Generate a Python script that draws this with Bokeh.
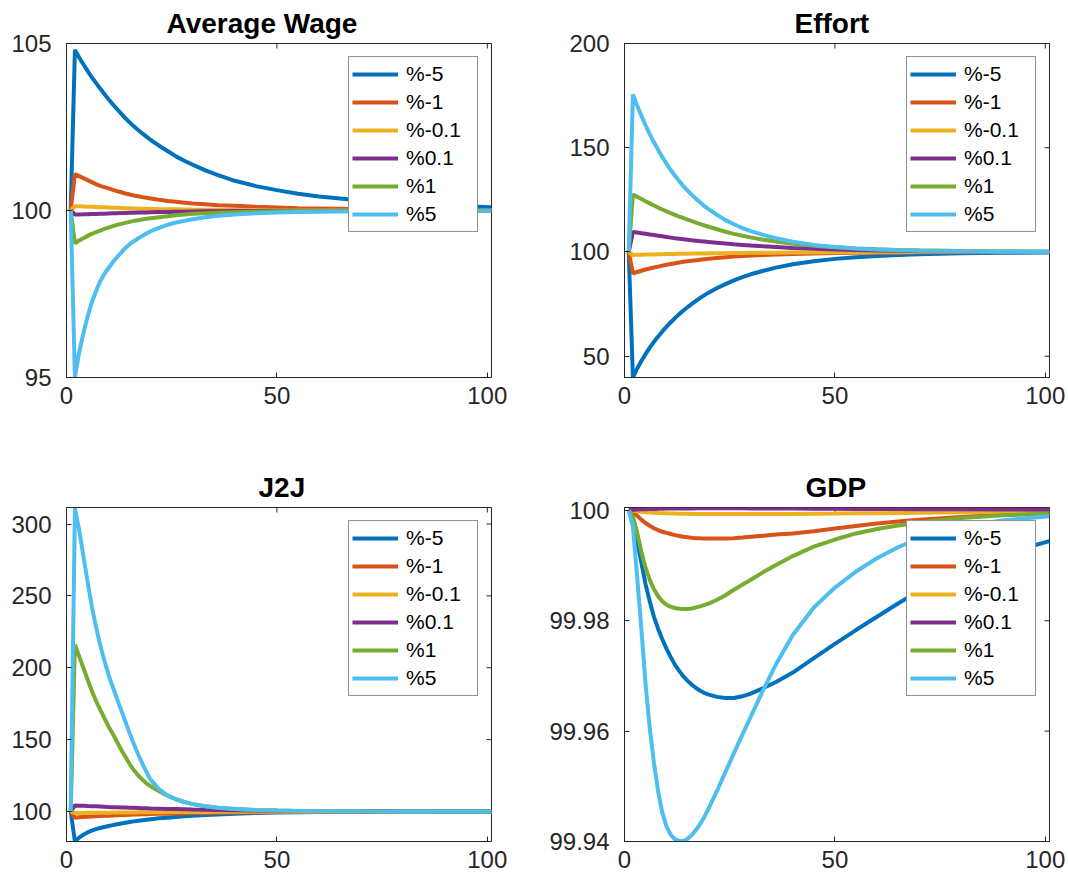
import math
from bokeh.plotting import figure
from bokeh.layouts import gridplot
from bokeh.models import Range1d, FixedTicker, Legend, LegendItem
from bokeh.embed import file_html
from bokeh.resources import INLINE

# ---------------- data ----------------
X = [1, 2, 3, 4, 5, 6, 7, 8, 9, 10, 11, 12, 13, 14, 15, 16, 17, 18, 19, 20,
     22, 24, 26, 28, 30, 33, 36, 40, 45, 50, 55, 60, 65, 70, 80, 90, 101]
LABELS = ["%-5", "%-1", "%-0.1", "%0.1", "%1", "%5"]
COLORS = ["#0072BD", "#D95319", "#EDB120", "#7E2F8E", "#77AC30", "#4DBEEE"]

# Average Wage
WAGE_M5 = [100, 104.81, 104.58, 104.38, 104.18, 103.99, 103.82, 103.65, 103.49, 103.33, 103.18, 103.04, 102.90,
           102.76, 102.64, 102.52, 102.41, 102.31, 102.21, 102.11, 101.94, 101.78, 101.62, 101.49, 101.37, 101.20,
           101.06, 100.89, 100.73, 100.61, 100.50, 100.42, 100.36, 100.30, 100.21, 100.15, 100.10]
WAGE_M1 = [100, 101.09, 101.03, 100.97, 100.91, 100.85, 100.79, 100.74, 100.70, 100.66, 100.62, 100.58, 100.545,
           100.51, 100.48, 100.45, 100.425, 100.40, 100.38, 100.36, 100.32, 100.285, 100.26, 100.235, 100.21, 100.185,
           100.16, 100.14, 100.11, 100.09, 100.07, 100.06, 100.05, 100.04, 100.03, 100.02, 100.01]
WAGE_M01 = [100, 100.13, 100.125, 100.12, 100.115, 100.11, 100.105, 100.10, 100.095, 100.09, 100.085, 100.08, 100.075,
            100.07, 100.066, 100.062, 100.058, 100.055, 100.052, 100.049, 100.044, 100.04, 100.036, 100.032, 100.028,
            100.024, 100.02, 100.016, 100.012, 100.01, 100.008, 100.006, 100.005, 100.004, 100.002, 100.001, 100.0]
WAGE_P01 = [100, 99.88, 99.883, 99.886, 99.89, 99.894, 99.898, 99.902, 99.906, 99.91, 99.914, 99.918, 99.922,
            99.926, 99.93, 99.934, 99.937, 99.94, 99.943, 99.946, 99.952, 99.957, 99.962, 99.966, 99.97, 99.975,
            99.979, 99.983, 99.987, 99.99, 99.992, 99.994, 99.995, 99.996, 99.998, 99.999, 100.0]
WAGE_P1 = [100, 99.02, 99.10, 99.17, 99.24, 99.30, 99.35, 99.40, 99.45, 99.49, 99.53, 99.57, 99.60,
           99.63, 99.66, 99.69, 99.71, 99.73, 99.75, 99.77, 99.80, 99.83, 99.86, 99.88, 99.90, 99.92,
           99.935, 99.95, 99.965, 99.975, 99.982, 99.987, 99.99, 99.992, 99.995, 99.997, 99.998]
WAGE_P5 = [100, 95.02, 95.75, 96.32, 96.82, 97.24, 97.58, 97.88, 98.10, 98.28, 98.45, 98.60, 98.74,
           98.88, 98.99, 99.08, 99.16, 99.24, 99.31, 99.38, 99.48, 99.57, 99.64, 99.69, 99.74, 99.80,
           99.84, 99.88, 99.92, 99.94, 99.955, 99.965, 99.97, 99.975, 99.98, 99.985, 99.99]

# Effort
EFF_M5 = [100, 39.8, 44.0, 47.7, 51.0, 54.1, 56.9, 59.5, 61.9, 64.2, 66.3, 68.3, 70.2, 71.9, 73.6, 75.1, 76.6,
          78.0, 79.3, 80.5, 82.7, 84.6, 86.4, 87.9, 89.3, 91.0, 92.5, 94.1, 95.6, 96.7, 97.5, 98.1, 98.55, 98.9,
          99.35, 99.62, 99.8]
EFF_M1 = [100, 89.8, 90.4, 91.0, 91.6, 92.1, 92.55, 93.0, 93.45, 93.9, 94.25, 94.6, 94.95, 95.3, 95.55, 95.8,
          96.05, 96.3, 96.55, 96.8, 97.15, 97.5, 97.8, 98.05, 98.3, 98.55, 98.8, 99.05, 99.3, 99.5, 99.62, 99.72,
          99.8, 99.85, 99.92, 99.96, 99.98]
EFF_M01 = [100, 98.6, 98.65, 98.7, 98.75, 98.8, 98.85, 98.9, 98.95, 99.0, 99.04, 99.08, 99.12, 99.15, 99.19,
           99.22, 99.26, 99.29, 99.32, 99.35, 99.4, 99.45, 99.5, 99.54, 99.58, 99.63, 99.68, 99.74, 99.8, 99.84,
           99.88, 99.9, 99.92, 99.94, 99.96, 99.98, 99.99]
EFF_P01 = [100, 109.6, 109.3, 109.0, 108.7, 108.4, 108.1, 107.8, 107.5, 107.2, 106.9, 106.6, 106.35, 106.1,
           105.85, 105.6, 105.4, 105.2, 105.0, 104.8, 104.4, 104.05, 103.7, 103.4, 103.1, 102.75, 102.4, 101.9,
           101.5, 101.2, 100.9, 100.7, 100.55, 100.4, 100.25, 100.15, 100.08]
EFF_P1 = [100, 127.6, 126.5, 125.4, 124.3, 123.3, 122.3, 121.3, 120.4, 119.5, 118.6, 117.8, 117.0, 116.3, 115.5,
          114.8, 114.1, 113.4, 112.7, 112.1, 110.9, 109.7, 108.7, 107.8, 107.0, 105.9, 105.0, 104.0, 103.0, 102.3,
          101.7, 101.3, 101.0, 100.8, 100.45, 100.25, 100.12]
EFF_P5 = [100, 175.6, 170.3, 165.4, 160.8, 156.5, 152.6, 148.9, 145.5, 142.3, 139.3, 136.6, 134.0, 131.6, 129.4,
          127.4, 125.5, 123.7, 122.0, 120.5, 117.8, 115.3, 113.3, 111.5, 110.0, 108.2, 106.6, 104.9, 103.4, 102.4,
          101.7, 101.2, 100.85, 100.6, 100.3, 100.15, 100.07]

# J2J
J2J_M5 = [100, 79.1, 81.8, 83.8, 85.4, 86.7, 87.7, 88.5, 89.2, 89.9, 90.5, 91.1, 91.65, 92.2, 92.65, 93.1, 93.5,
          93.9, 94.25, 94.6, 95.2, 95.7, 96.2, 96.6, 97.0, 97.5, 97.9, 98.4, 98.9, 99.2, 99.45, 99.6, 99.7, 99.8,
          99.9, 99.95, 99.98]
J2J_M1 = [100, 95.7, 95.9, 96.1, 96.3, 96.5, 96.65, 96.8, 96.95, 97.1, 97.25, 97.4, 97.5, 97.6, 97.7, 97.8, 97.9,
          98.0, 98.1, 98.2, 98.33, 98.47, 98.6, 98.73, 98.85, 99.0, 99.13, 99.3, 99.45, 99.58, 99.68, 99.75, 99.8,
          99.85, 99.92, 99.96, 99.98]
J2J_M01 = [100, 98.9, 98.95, 99.0, 99.03, 99.06, 99.09, 99.12, 99.15, 99.18, 99.21, 99.24, 99.27, 99.3, 99.33,
           99.35, 99.38, 99.4, 99.43, 99.45, 99.49, 99.54, 99.58, 99.62, 99.66, 99.7, 99.74, 99.8, 99.85, 99.89,
           99.92, 99.94, 99.96, 99.97, 99.985, 99.99, 100.0]
J2J_P01 = [100, 104.2, 104.05, 103.95, 103.8, 103.7, 103.55, 103.4, 103.25, 103.1, 103.0, 102.9, 102.8, 102.7,
           102.6, 102.5, 102.4, 102.3, 102.2, 102.1, 101.95, 101.8, 101.65, 101.5, 101.35, 101.2, 101.05, 100.85,
           100.65, 100.5, 100.38, 100.28, 100.2, 100.15, 100.08, 100.04, 100.02]
J2J_P1 = [100, 216, 208, 200, 192, 184, 177, 171, 165, 159, 154, 148.5, 143, 138, 133, 128.8, 125.2, 122.2, 119.6,
          117.5, 114.0, 111.0, 108.5, 106.6, 105.1, 103.6, 102.6, 101.7, 101.0, 100.6, 100.4, 100.25, 100.15, 100.1,
          100.05, 100.02, 100.0]
J2J_P5 = [100, 311, 296, 278, 260, 243, 228.5, 216, 205, 195, 186.5, 178.5, 170.5, 162.5, 154.5, 147, 140, 133.5,
          127.5, 122, 115.5, 111.2, 108.5, 106.6, 105.1, 103.6, 102.6, 101.7, 101.0, 100.6, 100.4, 100.25, 100.15,
          100.1, 100.05, 100.02, 100.0]

# GDP
GDP_M5 = [100.0, 99.9985, 99.9945, 99.9905, 99.9866, 99.9835, 99.9807, 99.9785, 99.9766, 99.9749, 99.9734,
          99.9720, 99.9709, 99.9699, 99.9691, 99.9684, 99.9678, 99.9673, 99.9669, 99.9666, 99.9662, 99.9660,
          99.9660, 99.9663, 99.9668, 99.9678, 99.9689, 99.9706, 99.9732, 99.9758, 99.9783, 99.9807, 99.9831,
          99.9854, 99.9893, 99.9921, 99.9944]
GDP_M1 = [100.0, 99.9997, 99.9990, 99.9983, 99.9977, 99.9972, 99.99675, 99.9964, 99.9961, 99.9959, 99.9957,
          99.9955, 99.99535, 99.9952, 99.9951, 99.9950, 99.99495, 99.99492, 99.9949, 99.99488, 99.99487, 99.9949,
          99.99495, 99.99505, 99.9952, 99.9954, 99.9956, 99.9958, 99.9962, 99.9967, 99.99715, 99.9976, 99.99795,
          99.9983, 99.9988, 99.9992, 99.99955]
GDP_M01 = [100.0, 99.9999, 99.9998, 99.99972, 99.99965, 99.99958, 99.99954, 99.9995, 99.99947, 99.99945,
           99.99943, 99.9994, 99.99939, 99.99937, 99.99936, 99.99934, 99.99933, 99.99932, 99.99931, 99.9993,
           99.9993, 99.9993, 99.9993, 99.9993, 99.99931, 99.99932, 99.99933, 99.99934, 99.99937, 99.9994,
           99.99944, 99.99948, 99.99952, 99.99956, 99.99964, 99.99972, 99.9998]
GDP_P01 = [100.0, 100.00008, 100.00012, 100.00016, 100.0002, 100.00023, 100.00025, 100.00027, 100.00029,
           100.0003, 100.00031, 100.00032, 100.000325, 100.00033, 100.000335, 100.00034, 100.000345, 100.00035,
           100.00035, 100.00035, 100.00035, 100.00035, 100.00035, 100.000345, 100.00034, 100.000335, 100.00033,
           100.00031, 100.00029, 100.00027, 100.00025, 100.00023, 100.00022, 100.0002, 100.00017, 100.00014,
           100.00011]
GDP_P1 = [100.0, 99.9988, 99.9960, 99.9925, 99.9896, 99.9874, 99.9857, 99.9844, 99.9835, 99.9829, 99.9825,
          99.9823, 99.98215, 99.9821, 99.9821, 99.9822, 99.9824, 99.9826, 99.98285, 99.9831, 99.9838, 99.9846,
          99.9856, 99.9865, 99.9874, 99.9888, 99.9901, 99.9917, 99.9934, 99.9947, 99.9958, 99.9966, 99.99725,
          99.9978, 99.9986, 99.9991, 99.9994]
GDP_P5 = [100.0, 99.9970, 99.9880, 99.9785, 99.9686, 99.9605, 99.9542, 99.9490, 99.9452, 99.9427, 99.9412,
          99.9404, 99.9401, 99.9401, 99.9405, 99.9412, 99.9421, 99.9432, 99.9445, 99.9460, 99.9492, 99.9526,
          99.9560, 99.9593, 99.9626, 99.9675, 99.9721, 99.9774, 99.9824, 99.9860, 99.9889, 99.9913, 99.9933,
          99.9949, 99.9970, 99.9982, 99.9989]

X_TICKS = [0, 50, 100]
WAGE_TICKS = [95, 100, 105]
EFF_TICKS = [50, 100, 150, 200]
J2J_TICKS = [100, 150, 200, 250, 300]
GDP_TICKS = [99.94, 99.96, 99.98, 100]
GDP_TICK_TEXT = {99.94: "99.94", 99.96: "99.96", 99.98: "99.98", 100: "100"}

# ---------------- styling ----------------
FONT = "Liberation Sans"
AX_COLOR = "#262626"
FRAME_W = 425
FRAME_H = 334


def panel(title, title_left, series, y0, y1, yticks, left, right, top, bottom, overrides=None):
    p = figure(width=left + FRAME_W + right, height=top + FRAME_H + bottom,
               x_range=Range1d(0, 101), y_range=Range1d(y0, y1),
               output_backend="svg", toolbar_location=None,
               min_border_left=left, min_border_right=right,
               min_border_top=top, min_border_bottom=bottom)
    p.title.text = title
    p.title.align = "left"
    p.title.offset = title_left
    p.title.text_font = FONT
    p.title.text_font_size = "28px"
    p.title.text_font_style = "bold"
    p.title.text_color = "#000000"
    p.title.standoff = 9
    p.xgrid.visible = False
    p.ygrid.visible = False
    p.outline_line_color = AX_COLOR
    p.outline_line_width = 1
    p.outline_line_alpha = 1
    p.background_fill_color = "white"
    p.border_fill_color = "white"

    for ax, ticks in ((p.xaxis[0], X_TICKS), (p.yaxis[0], yticks)):
        ax.ticker = FixedTicker(ticks=ticks)
        ax.major_tick_in = 5
        ax.major_tick_out = 0
        ax.minor_tick_line_color = None
        ax.axis_line_color = AX_COLOR
        ax.major_tick_line_color = AX_COLOR
        ax.major_label_text_font = FONT
        ax.major_label_text_font_size = "24px"
        ax.major_label_text_color = AX_COLOR
    p.xaxis[0].major_label_standoff = 9
    p.yaxis[0].major_label_standoff = 15
    if overrides:
        p.yaxis[0].major_label_overrides = overrides

    # mirrored inward ticks on the right and top edges of the box
    xr, yr = p.x_range, p.y_range
    p.scatter([xr.end] * len(yticks), yticks, marker="dash", size=10,
              line_color=AX_COLOR, line_width=1)
    p.scatter(X_TICKS, [yr.end] * len(X_TICKS), marker="dash", size=10, angle=math.pi / 2,
              line_color=AX_COLOR, line_width=1)

    items = []
    for ys, lab, col in zip(series, LABELS, COLORS):
        r = p.line(X, ys, line_color=col, line_width=4)
        items.append(LegendItem(label=lab, renderers=[r]))

    leg = Legend(items=items, location="top_right", margin=13,
                 padding=3, spacing=0, glyph_width=46, glyph_height=28,
                 label_height=28, label_width=68, label_standoff=8,
                 label_text_font=FONT, label_text_font_size="21px",
                 label_text_color="#000000",
                 border_line_color=AX_COLOR, border_line_width=1,
                 background_fill_color="white", background_fill_alpha=1.0)
    p.add_layout(leg, "center")
    return p


p1 = panel("Average Wage", 100, [WAGE_M5, WAGE_M1, WAGE_M01, WAGE_P01, WAGE_P1, WAGE_P5],
           95, 105, WAGE_TICKS, 66, 48, 43, 36)
p2 = panel("Effort", 170, [EFF_M5, EFF_M1, EFF_M01, EFF_P01, EFF_P1, EFF_P5],
           39.8, 200, EFF_TICKS, 85, 17, 43, 36)
p3 = panel("J2J", 192, [J2J_M5, J2J_M1, J2J_M01, J2J_P01, J2J_P1, J2J_P5],
           79.1, 311.5, J2J_TICKS, 66, 48, 94, 36)
p4 = panel("GDP", 181, [GDP_M5, GDP_M1, GDP_M01, GDP_P01, GDP_P1, GDP_P5],
           99.94, 100.0005, GDP_TICKS, 85, 17, 94, 36, overrides=GDP_TICK_TEXT)

grid = gridplot([[p1, p2], [p3, p4]], toolbar_location=None)

open("out.html", "w").write(file_html(grid, INLINE))
